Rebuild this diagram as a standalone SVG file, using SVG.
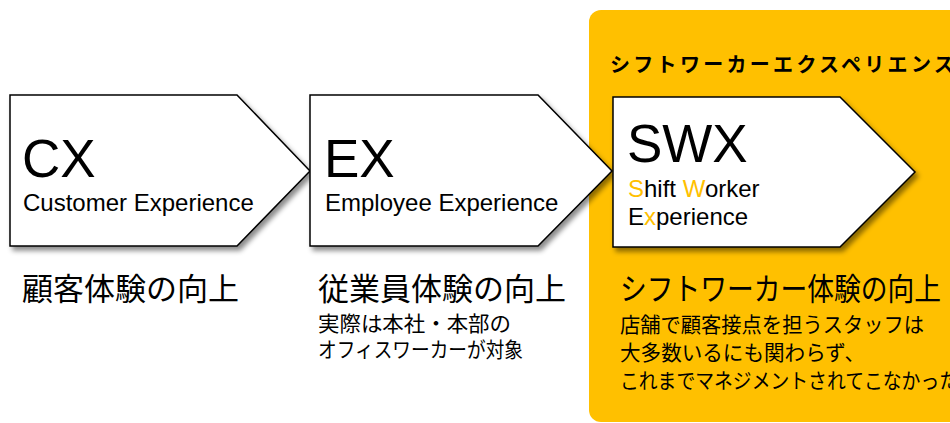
<svg xmlns="http://www.w3.org/2000/svg" width="950" height="423" viewBox="0 0 950 423">
<defs>
<filter id="sh" x="-10%" y="-10%" width="130%" height="130%">
<feDropShadow dx="3" dy="4" stdDeviation="2.5" flood-color="#000" flood-opacity="0.45"/>
</filter>
</defs>
<style>
.arrow{fill:#fff;stroke:#000;stroke-width:1.5;filter:url(#sh)}
.big{font-family:"Liberation Sans",Arial,sans-serif;font-size:53px;fill:#000}
.sub{font-family:"Liberation Sans",Arial,sans-serif;font-size:24px;fill:#000}
.hl{fill:#FFC000}
.jp1{font-family:"Noto Sans CJK JP","Noto Sans",sans-serif;font-size:31px;fill:#000}
.jp2{font-family:"Noto Sans CJK JP","Noto Sans",sans-serif;font-size:21px;fill:#000}
.head{font-family:"Noto Sans CJK JP","Noto Sans",sans-serif;font-size:20px;font-weight:bold;letter-spacing:3.3px;fill:#000}
</style>
<rect x="0" y="0" width="950" height="423" fill="#fff"/>
<g id="swx-panel">
<rect x="589" y="10" width="400" height="412" rx="12" ry="12" fill="#FFC000"/>
<text class="head" x="610" y="72">シフトワーカーエクスペリエンス</text>
</g>
<g id="cx">
<path class="arrow" d="M10,95 H237 L310,171 L237,246 H10 Z"/>
<text class="big" x="22" y="177">CX</text>
<text class="sub" x="23" y="211">Customer Experience</text>
<text class="jp1" x="22" y="300" textLength="217" lengthAdjust="spacingAndGlyphs">顧客体験の向上</text>
</g>
<g id="ex">
<path class="arrow" d="M310,95 H538 L612,171 L538,246 H310 Z"/>
<text class="big" x="324" y="177">EX</text>
<text class="sub" x="325" y="211">Employee Experience</text>
<text class="jp1" x="318" y="300" textLength="248" lengthAdjust="spacingAndGlyphs">従業員体験の向上</text>
<text class="jp2" x="318" y="331" textLength="193" lengthAdjust="spacingAndGlyphs">実際は本社・本部の</text>
<text class="jp2" x="318" y="357" textLength="205" lengthAdjust="spacingAndGlyphs">オフィスワーカーが対象</text>
</g>
<g id="swx">
<path class="arrow" d="M613,97 H840 L915,172 L840,247 H613 Z"/>
<text class="big" x="627" y="162">SWX</text>
<text class="sub" x="628" y="197"><tspan class="hl">S</tspan>hift <tspan class="hl">W</tspan>orker</text>
<text class="sub" x="628" y="225">E<tspan class="hl">x</tspan>perience</text>
<text class="jp1" x="620" y="300" textLength="321" lengthAdjust="spacingAndGlyphs">シフトワーカー体験の向上</text>
<text class="jp2" x="620" y="332" textLength="304" lengthAdjust="spacingAndGlyphs">店舗で顧客接点を担うスタッフは</text>
<text class="jp2" x="620" y="360" textLength="245" lengthAdjust="spacingAndGlyphs">大多数いるにも関わらず、</text>
<text class="jp2" x="620" y="388" textLength="338" lengthAdjust="spacingAndGlyphs">これまでマネジメントされてこなかった</text>
</g>
<g id="connectors"></g>
</svg>
